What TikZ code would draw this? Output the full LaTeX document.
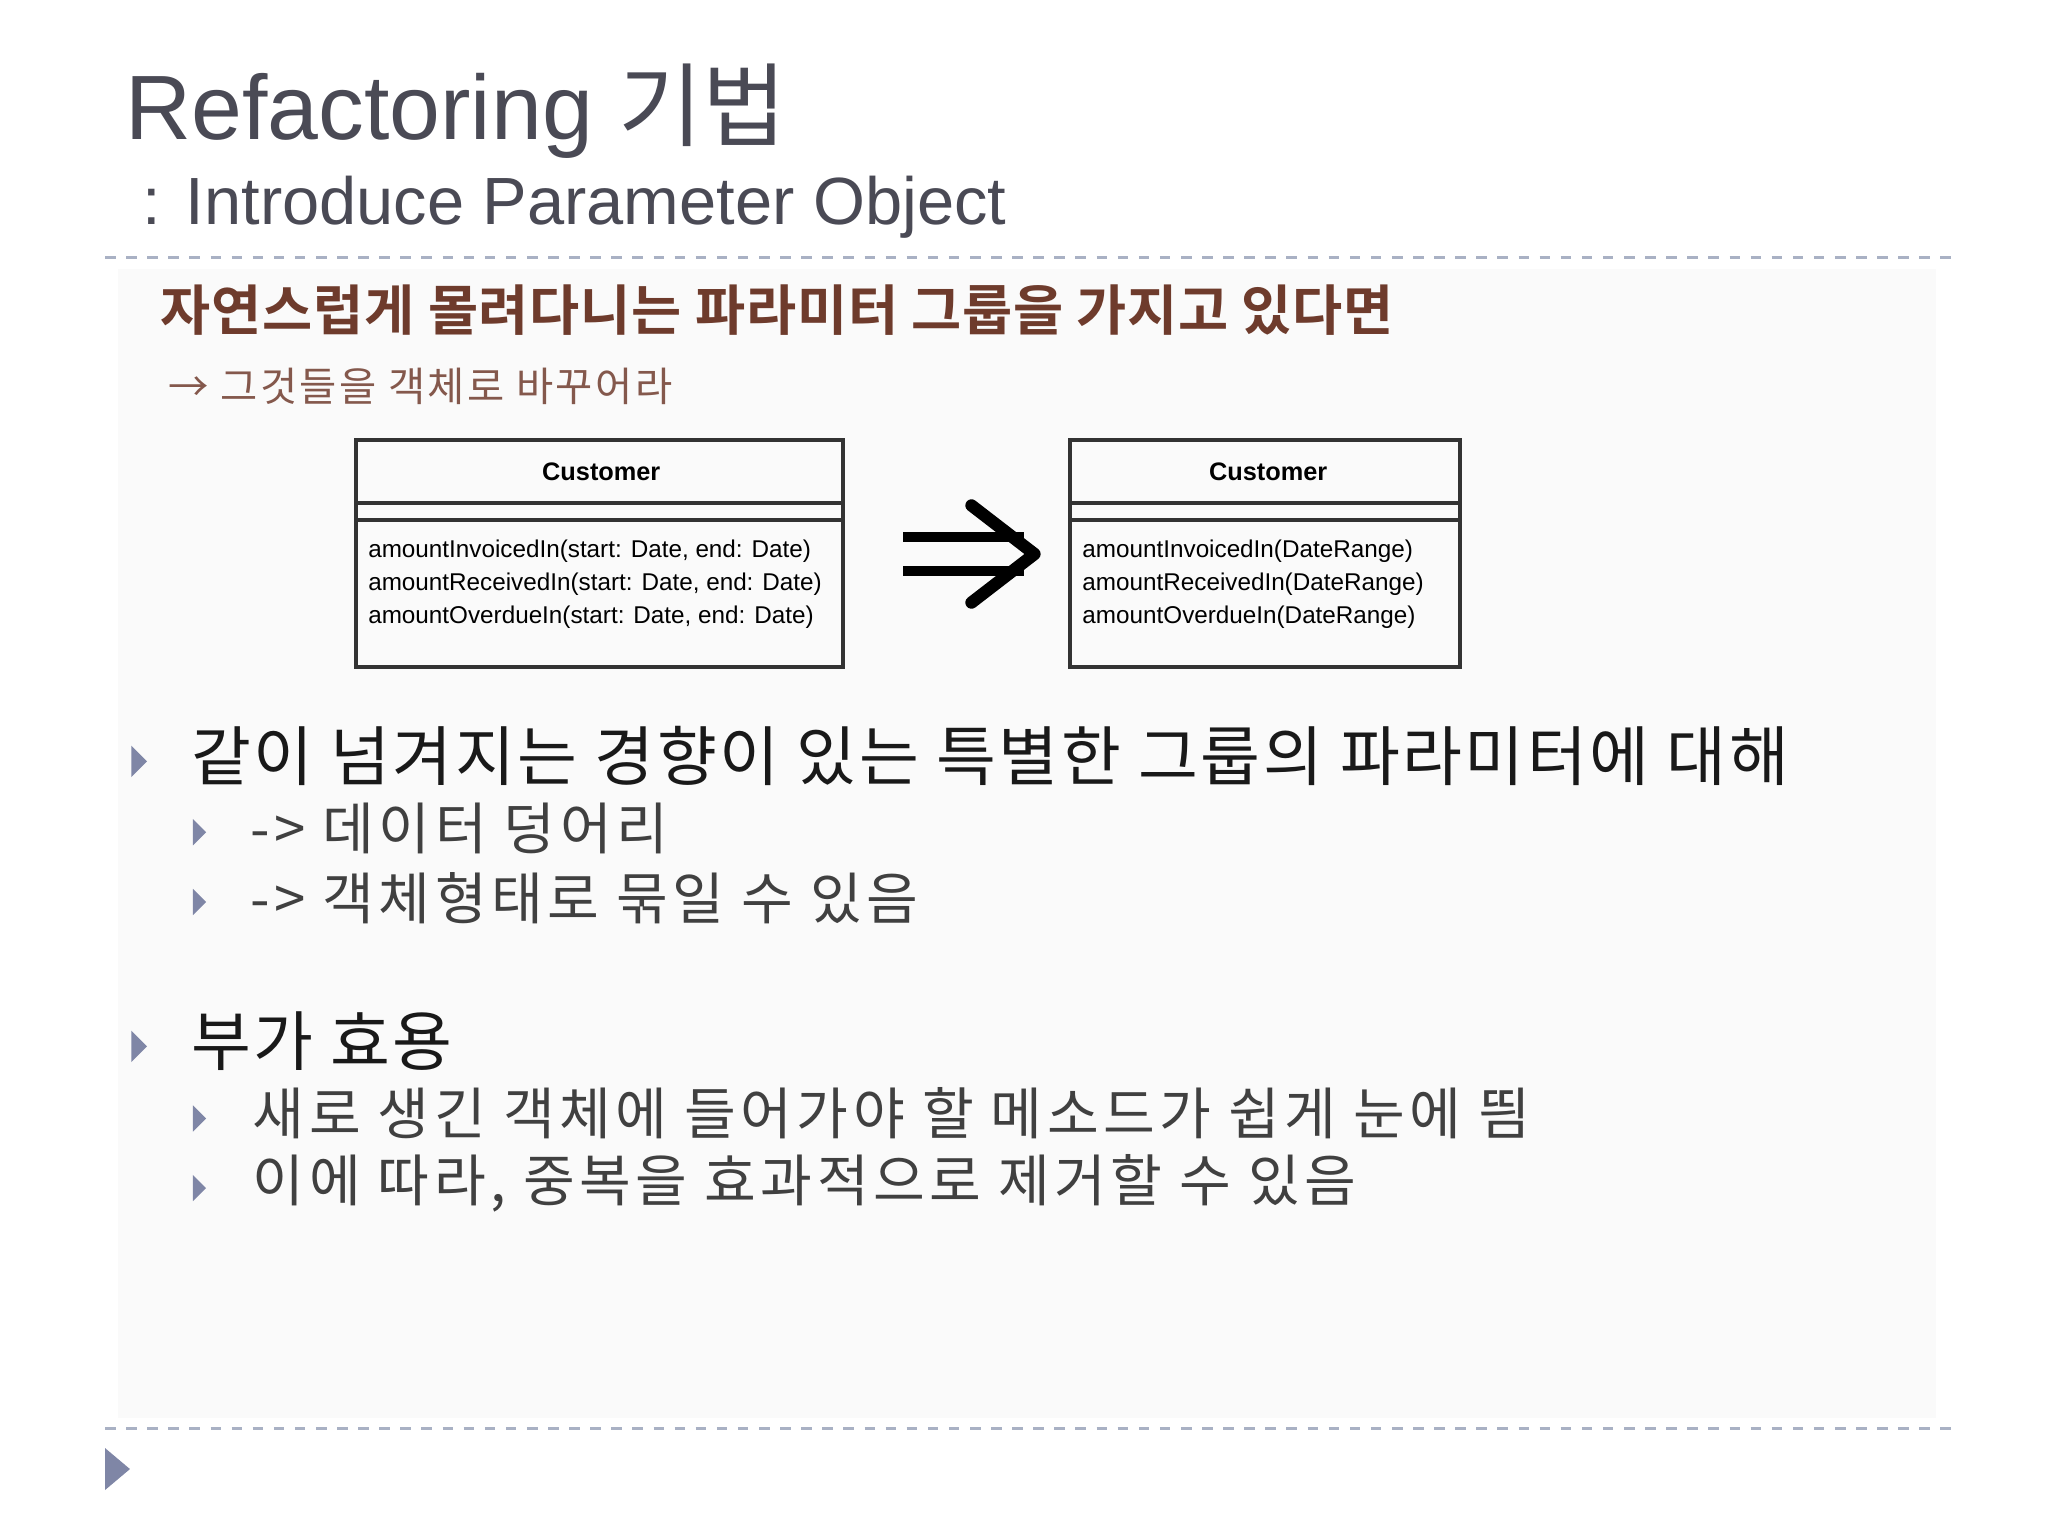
\documentclass[tikz,border=0pt]{standalone}
\usepackage{fontspec}
\setmainfont{Liberation Sans}
\newfontfamily\kr{Noto Sans CJK KR}
\newfontfamily\krm[LetterSpace=4]{Noto Sans CJK KR}
\newfontfamily\krs[LetterSpace=8]{Noto Sans CJK KR}
\newfontfamily\krh[LetterSpace=6]{Noto Sans CJK KR}
\newfontfamily\krb[LetterSpace=1.5]{Noto Sans CJK KR Bold}
\definecolor{titlec}{HTML}{4A4A55}
\definecolor{redc}{HTML}{6E3B2C}
\definecolor{bulc}{HTML}{7F86A6}
\definecolor{dashc}{HTML}{A9B1C4}
\tikzset{
 umlbox/.style={draw=black!80,line width=1.2pt},
 uml/.style={anchor=west,font=\fontsize{6.9pt}{8pt}\selectfont,inner sep=0pt},
 tri/.style={fill=bulc,draw=none},
 main/.style={anchor=west,inner sep=0pt,font=\krm\fontsize{18.5pt}{20pt}\selectfont,text=black!90},
 sub/.style={anchor=west,inner sep=0pt,font=\krs\fontsize{16pt}{18pt}\selectfont,text=black!75}
}
\begin{document}
\begin{tikzpicture}[x=0.013128cm,y=-0.013128cm]
\useasboundingbox (0,0) rectangle (1560,1170);
\fill[black!2] (90,205) rectangle (1475,1080);
\node[anchor=west,inner sep=0pt,text=titlec,font=\fontsize{26pt}{28pt}\selectfont] (t) at (95,85) {Refactoring {\kr 기법}};
\node[anchor=west,inner sep=0pt,text=titlec,font=\fontsize{19pt}{21pt}\selectfont] (st) at (108,158) {: Introduce Parameter Object};
\draw[dashc,dashed,line width=0.8pt] (80,196) -- (1490,196);
\draw[dashc,dashed,line width=0.8pt] (80,1088) -- (1490,1088);
\node[anchor=west,inner sep=0pt,text=redc,font=\krb\fontsize{15.5pt}{17pt}\selectfont] (h) at (122,236) {자연스럽게 몰려다니는 파라미터 그룹을 가지고 있다면};
\node[anchor=west,inner sep=0pt,text=redc!85,font=\krh\fontsize{11.5pt}{13pt}\selectfont] (h2) at (128,294) {→ 그것들을 객체로 바꾸어라};
% left box
\draw[umlbox] (271,335) rectangle (642,508);
\draw[umlbox] (271,383) -- (642,383); \draw[umlbox] (271,396) -- (642,396);
\node[font=\bfseries\fontsize{7.2pt}{9pt}\selectfont] (c1) at (458,359) {Customer};
\node[uml] (l1) at (280,420) {amountInvoicedIn(start: Date, end: Date)};
\node[uml] (l2) at (280,445) {amountReceivedIn(start: Date, end: Date)};
\node[uml] (l3) at (280,470) {amountOverdueIn(start: Date, end: Date)};
% right box
\draw[umlbox] (815,335) rectangle (1112,508);
\draw[umlbox] (815,383) -- (1112,383); \draw[umlbox] (815,396) -- (1112,396);
\node[font=\bfseries\fontsize{7.2pt}{9pt}\selectfont] (c2) at (966,359) {Customer};
\node[uml] (r1) at (824,420) {amountInvoicedIn(DateRange)};
\node[uml] (r2) at (824,445) {amountReceivedIn(DateRange)};
\node[uml] (r3) at (824,470) {amountOverdueIn(DateRange)};
% arrow
\draw[line width=3pt] (688,409) -- (780,409) (688,435) -- (780,435);
\draw[line width=3.5pt,line cap=round,line join=round] (740,385) -- (788,422) -- (740,459);
% bullets
\fill[tri] (100,568) -- (112,580) -- (100,592) -- cycle;
\node[main] (b1) at (145,576) {같이 넘겨지는 경향이 있는 특별한 그룹의 파라미터에 대해};
\fill[tri] (147,624) -- (157,634) -- (147,644) -- cycle;
\node[sub] (b11) at (190,631) {-> 데이터 덩어리};
\fill[tri] (147,677) -- (157,687) -- (147,697) -- cycle;
\node[sub] (b12) at (190,684) {-> 객체형태로 묶일 수 있음};
\fill[tri] (100,785) -- (112,797) -- (100,809) -- cycle;
\node[main] (b2) at (145,793) {부가 효용};
\fill[tri] (147,842) -- (157,852) -- (147,862) -- cycle;
\node[sub] (b21) at (192,848) {새로 생긴 객체에 들어가야 할 메소드가 쉽게 눈에 띔};
\fill[tri] (147,895) -- (157,905) -- (147,915) -- cycle;
\node[sub] (b22) at (192,901) {이에 따라, 중복을 효과적으로 제거할 수 있음};
\fill[tri] (80,1103) -- (99,1119) -- (80,1135) -- cycle;
\end{tikzpicture}
\end{document}
